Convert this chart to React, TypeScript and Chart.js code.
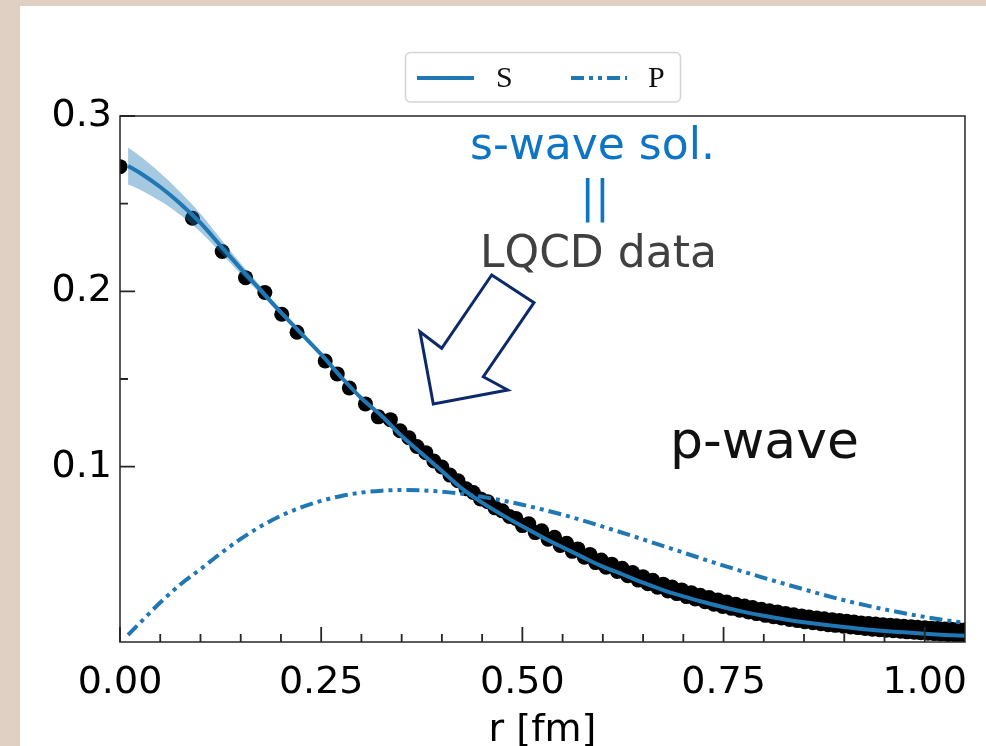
import React, { useEffect, useRef } from 'react';
import { Chart, registerables } from 'chart.js';

Chart.register(...registerables);

// ---------- axes ----------
const X_TICKS = [0, 0.25, 0.5, 0.75, 1.0];
const X_TICK_LABELS = ['0.00', '0.25', '0.50', '0.75', '1.00'];
const X_MINOR = [0.05, 0.1, 0.15, 0.2, 0.3, 0.35, 0.4, 0.45, 0.55, 0.6, 0.65, 0.7, 0.8, 0.85, 0.9, 0.95];
const Y_TICKS = [0.1, 0.2, 0.3];
const Y_TICK_LABELS = ['0.1', '0.2', '0.3'];
const Y_MINOR = [0.15, 0.25];
const X_TITLE = 'r [fm]';

// ---------- LQCD data (black dots) ----------
const LQCD_R = [
  0.0, 0.090, 0.127, 0.156, 0.180, 0.201, 0.220, 0.255, 0.270, 0.285, 0.305, 0.321,
  0.336, 0.348, 0.359, 0.369, 0.380, 0.390, 0.400, 0.410, 0.420, 0.430, 0.439, 0.448,
  0.457, 0.466, 0.475, 0.484, 0.492, 0.500, 0.508, 0.516, 0.524, 0.532, 0.540, 0.547,
  0.555, 0.562, 0.569, 0.577, 0.584, 0.591, 0.598, 0.604, 0.611, 0.618, 0.624, 0.631,
  0.637, 0.644, 0.650, 0.656, 0.662, 0.668, 0.675, 0.681, 0.686, 0.692, 0.698, 0.704,
  0.710, 0.715, 0.721, 0.727, 0.732, 0.738, 0.743, 0.749, 0.754, 0.760, 0.765, 0.770,
  0.776, 0.781, 0.786, 0.791, 0.797, 0.802, 0.807, 0.812, 0.817, 0.822, 0.827, 0.832,
  0.837, 0.842, 0.847, 0.851, 0.856, 0.861, 0.866, 0.871, 0.875, 0.880, 0.885, 0.889,
  0.894, 0.899, 0.903, 0.908, 0.912, 0.917, 0.921, 0.926, 0.930, 0.935, 0.939, 0.944,
  0.948, 0.952, 0.957, 0.961, 0.965, 0.970, 0.974, 0.978, 0.983, 0.987, 0.991, 0.995,
  1.000, 1.004, 1.008, 1.012, 1.016, 1.020, 1.025, 1.029, 1.033, 1.037, 1.041, 1.045, 1.049,
];
const LQCD_V = [
  0.2711, 0.2417, 0.2227, 0.2078, 0.1993, 0.1869, 0.1767, 0.1603, 0.1529, 0.1449, 0.1358, 0.1284,
  0.1268, 0.1205, 0.1165, 0.1115, 0.1080, 0.1032, 0.0998, 0.0952, 0.0920, 0.0874, 0.0853, 0.0816,
  0.0800, 0.0765, 0.0748, 0.0716, 0.0705, 0.0664, 0.0674, 0.0624, 0.0634, 0.0586, 0.0597, 0.0551,
  0.0563, 0.0517, 0.0531, 0.0484, 0.0499, 0.0453, 0.0468, 0.0427, 0.0444, 0.0402, 0.0421, 0.0378,
  0.0396, 0.0353, 0.0372, 0.0332, 0.0352, 0.0312, 0.0330, 0.0291, 0.0314, 0.0276, 0.0297, 0.0259,
  0.0281, 0.0245, 0.0267, 0.0230, 0.0254, 0.0216, 0.0240, 0.0203, 0.0228, 0.0192, 0.0216, 0.0181,
  0.0205, 0.0171, 0.0197, 0.0162, 0.0187, 0.0152, 0.0178, 0.0144, 0.0171, 0.0137, 0.0163, 0.0129,
  0.0156, 0.0122, 0.0149, 0.0116, 0.0143, 0.0110, 0.0137, 0.0104, 0.0132, 0.0099, 0.0127, 0.0095,
  0.0122, 0.0090, 0.0118, 0.0086, 0.0114, 0.0082, 0.0109, 0.0077, 0.0105, 0.0073, 0.0102, 0.0070,
  0.0098, 0.0067, 0.0095, 0.0064, 0.0092, 0.0061, 0.0090, 0.0058, 0.0087, 0.0056, 0.0084, 0.0053,
  0.0081, 0.0050, 0.0079, 0.0048, 0.0077, 0.0046, 0.0074, 0.0043, 0.0073, 0.0042, 0.0071, 0.0040, 0.0069,
];

// ---------- S-wave fit (solid) ----------
const FIT_R = [
  0.010, 0.025, 0.050, 0.075, 0.100, 0.125, 0.150, 0.175, 0.200, 0.225, 0.250, 0.275,
  0.300, 0.325, 0.350, 0.375, 0.400, 0.425, 0.450, 0.475, 0.500, 0.525, 0.550, 0.575,
  0.600, 0.625, 0.650, 0.675, 0.700, 0.725, 0.750, 0.775, 0.800, 0.825, 0.850, 0.875,
  0.900, 0.925, 0.950, 0.975, 1.000, 1.025, 1.050,
];
const FIT_S = [
  0.2715, 0.2675, 0.2595, 0.2500, 0.2390, 0.2260, 0.2130, 0.2005, 0.1880, 0.1760, 0.1640, 0.1510,
  0.1390, 0.1290, 0.1175, 0.1075, 0.0975, 0.0875, 0.0795, 0.0725, 0.0660, 0.0598, 0.0540, 0.0484,
  0.0430, 0.0385, 0.0338, 0.0296, 0.0260, 0.0228, 0.0198, 0.0172, 0.0150, 0.0130, 0.0113, 0.0098,
  0.0085, 0.0073, 0.0063, 0.0055, 0.0047, 0.0040, 0.0035,
];

// ---------- error band of the S fit ----------
const BAND_R = [0.010, 0.025, 0.050, 0.075, 0.100, 0.125, 0.150, 0.175, 0.200, 0.225, 0.250, 0.275, 0.300];
const BAND_HI = [0.2820, 0.2770, 0.2675, 0.2565, 0.2442, 0.2300, 0.2160, 0.2027, 0.1896, 0.1772, 0.1650, 0.1518, 0.1396];
const BAND_LO = [0.2610, 0.2580, 0.2515, 0.2435, 0.2338, 0.2220, 0.2100, 0.1983, 0.1864, 0.1748, 0.1630, 0.1502, 0.1384];

// ---------- P-wave (dash-dot-dot) ----------
const P_R = [
  0.010, 0.025, 0.050, 0.075, 0.100, 0.125, 0.150, 0.175, 0.200, 0.225, 0.250, 0.275,
  0.300, 0.325, 0.350, 0.375, 0.400, 0.425, 0.450, 0.475, 0.500, 0.550, 0.600, 0.650,
  0.700, 0.750, 0.800, 0.850, 0.900, 0.950, 1.000, 1.050,
];
const P_V = [
  0.0040, 0.0110, 0.0225, 0.0328, 0.0415, 0.0505, 0.0588, 0.0660, 0.0720, 0.0768, 0.0805, 0.0833,
  0.0852, 0.0863, 0.0867, 0.0865, 0.0857, 0.0845, 0.0828, 0.0807, 0.0783, 0.0726, 0.0658, 0.0585,
  0.0510, 0.0436, 0.0366, 0.0300, 0.0238, 0.0186, 0.0143, 0.0108,
];

const LEGEND_LABELS = ['S', 'P'];

const BLUE = '#1f77b4';
const P_DASH = [13, 5, 4, 5, 4, 5];

const pts = (xs: number[], ys: number[]) => xs.map((x, i) => ({ x, y: ys[i] }));

const decor = {
  id: 'decor',
  beforeDraw(chart: any) {
    const ctx = chart.ctx;
    ctx.save();
    ctx.fillStyle = '#dfd0c3';
    ctx.fillRect(0, 0, chart.width, chart.height);
    ctx.fillStyle = '#ffffff';
    ctx.fillRect(20, 6, chart.width - 20, chart.height - 6);
    ctx.restore();
  },
  afterDraw(chart: any) {
    const ctx = chart.ctx;
    const a = chart.chartArea;
    const xs = chart.scales.x;
    const ys = chart.scales.y;
    ctx.save();
    // frame
    ctx.strokeStyle = '#262626';
    ctx.lineWidth = 1.5;
    ctx.strokeRect(a.left, a.top, a.right - a.left, a.bottom - a.top);
    // inward ticks
    ctx.lineWidth = 1.8;
    ctx.beginPath();
    X_TICKS.forEach((v) => {
      const p = xs.getPixelForValue(v);
      ctx.moveTo(p, a.bottom);
      ctx.lineTo(p, a.bottom - 15);
    });
    X_MINOR.forEach((v) => {
      const p = xs.getPixelForValue(v);
      ctx.moveTo(p, a.bottom);
      ctx.lineTo(p, a.bottom - 8);
    });
    Y_TICKS.forEach((v) => {
      const p = ys.getPixelForValue(v);
      ctx.moveTo(a.left, p);
      ctx.lineTo(a.left + 15, p);
    });
    Y_MINOR.forEach((v) => {
      const p = ys.getPixelForValue(v);
      ctx.moveTo(a.left, p);
      ctx.lineTo(a.left + 8, p);
    });
    ctx.stroke();

    // legend
    ctx.beginPath();
    ctx.roundRect(405.5, 52.5, 275, 49.5, 5);
    ctx.fillStyle = '#ffffff';
    ctx.fill();
    ctx.strokeStyle = '#d4d4d4';
    ctx.lineWidth = 1.5;
    ctx.stroke();
    ctx.lineWidth = 4;
    ctx.strokeStyle = BLUE;
    ctx.beginPath();
    ctx.moveTo(417, 78);
    ctx.lineTo(474, 78);
    ctx.stroke();
    ctx.setLineDash(P_DASH);
    ctx.beginPath();
    ctx.moveTo(571, 78);
    ctx.lineTo(627, 78);
    ctx.stroke();
    ctx.setLineDash([]);
    ctx.fillStyle = '#111111';
    ctx.font = '30px "Liberation Serif"';
    ctx.textBaseline = 'middle';
    ctx.textAlign = 'left';
    ctx.fillText(LEGEND_LABELS[0], 496, 79);
    ctx.fillText(LEGEND_LABELS[1], 648, 79);

    // annotations
    ctx.textBaseline = 'alphabetic';
    ctx.font = '44px "DejaVu Sans"';
    ctx.fillStyle = '#0e74c4';
    ctx.fillText('s-wave sol.', 470, 159);
    ctx.textAlign = 'center';
    ctx.fillText('||', 595, 212);
    ctx.textAlign = 'left';
    ctx.fillStyle = '#404040';
    ctx.fillText('LQCD data', 480, 267);
    ctx.fillStyle = '#111111';
    ctx.font = '52px "DejaVu Sans"';
    ctx.fillText('p-wave', 670, 458);

    // hollow arrow
    ctx.strokeStyle = '#0c2a6a';
    ctx.lineWidth = 3;
    ctx.lineJoin = 'miter';
    ctx.beginPath();
    ctx.moveTo(491.7, 275);
    ctx.lineTo(534, 302.7);
    ctx.lineTo(483.3, 376.7);
    ctx.lineTo(507.7, 390);
    ctx.lineTo(433.3, 404);
    ctx.lineTo(420, 331.7);
    ctx.lineTo(441.7, 348.3);
    ctx.closePath();
    ctx.stroke();
    ctx.restore();
  },
};

export default function App() {
  const ref = useRef<HTMLCanvasElement | null>(null);
  useEffect(() => {
    if (!ref.current) return;
    const font = { family: '"DejaVu Sans"', size: 38 };
    const chart = new Chart(ref.current, {
      type: 'scatter',
      data: {
        datasets: [
          {
            label: 'LQCD',
            data: pts(LQCD_R, LQCD_V),
            showLine: false,
            pointRadius: 7.5,
            pointBackgroundColor: '#000000',
            pointBorderWidth: 0,
            order: 4,
          },
          {
            label: 'band hi',
            data: pts(BAND_R, BAND_HI),
            showLine: true,
            pointRadius: 0,
            borderWidth: 0,
            borderColor: 'rgba(0,0,0,0)',
            backgroundColor: 'rgba(31,119,180,0.4)',
            fill: '+1',
            tension: 0.4,
            order: 3,
          },
          {
            label: 'band lo',
            data: pts(BAND_R, BAND_LO),
            showLine: true,
            pointRadius: 0,
            borderWidth: 0,
            borderColor: 'rgba(0,0,0,0)',
            fill: false,
            tension: 0.4,
            order: 3,
          },
          {
            label: LEGEND_LABELS[0],
            data: pts(FIT_R, FIT_S),
            showLine: true,
            pointRadius: 0,
            borderColor: BLUE,
            borderWidth: 4,
            cubicInterpolationMode: 'monotone',
            order: 2,
          },
          {
            label: LEGEND_LABELS[1],
            data: pts(P_R, P_V),
            showLine: true,
            pointRadius: 0,
            borderColor: BLUE,
            borderWidth: 4,
            borderDash: P_DASH,
            cubicInterpolationMode: 'monotone',
            order: 1,
          },
        ],
      },
      options: {
        responsive: false,
        animation: false,
        devicePixelRatio: 1,
        layout: { padding: { left: 20, right: 20, top: 116, bottom: 0 } },
        plugins: { legend: { display: false }, tooltip: { enabled: false } },
        scales: {
          x: {
            type: 'linear',
            min: 0,
            max: 1.05,
            grid: { display: false, drawTicks: false },
            border: { display: false },
            afterBuildTicks: (s: any) => {
              s.ticks = X_TICKS.map((v) => ({ value: v }));
            },
            afterFit: (s: any) => {
              s.height = 104;
            },
            ticks: {
              font,
              color: '#000',
              padding: 18,
              maxRotation: 0,
              autoSkip: false,
              callback: (_v: any, i: number) => X_TICK_LABELS[i],
            },
            title: {
              display: true,
              text: X_TITLE,
              font,
              color: '#000',
              padding: { top: 0, bottom: -8 },
            },
          },
          y: {
            type: 'linear',
            min: 0,
            max: 0.3,
            grid: { display: false, drawTicks: false },
            border: { display: false },
            afterBuildTicks: (s: any) => {
              s.ticks = Y_TICKS.map((v) => ({ value: v }));
            },
            afterFit: (s: any) => {
              s.width = 100;
            },
            ticks: {
              font,
              color: '#000',
              padding: 8,
              autoSkip: false,
              callback: (_v: any, i: number) => Y_TICK_LABELS[i],
            },
          },
        },
      },
      plugins: [decor],
    } as any);
    return () => chart.destroy();
  }, []);
  return (
    <div style={{ position: 'absolute', left: 0, top: 0, width: 986, height: 746 }}>
      <canvas ref={ref} width={986} height={746} style={{ display: 'block' }} />
    </div>
  );
}
